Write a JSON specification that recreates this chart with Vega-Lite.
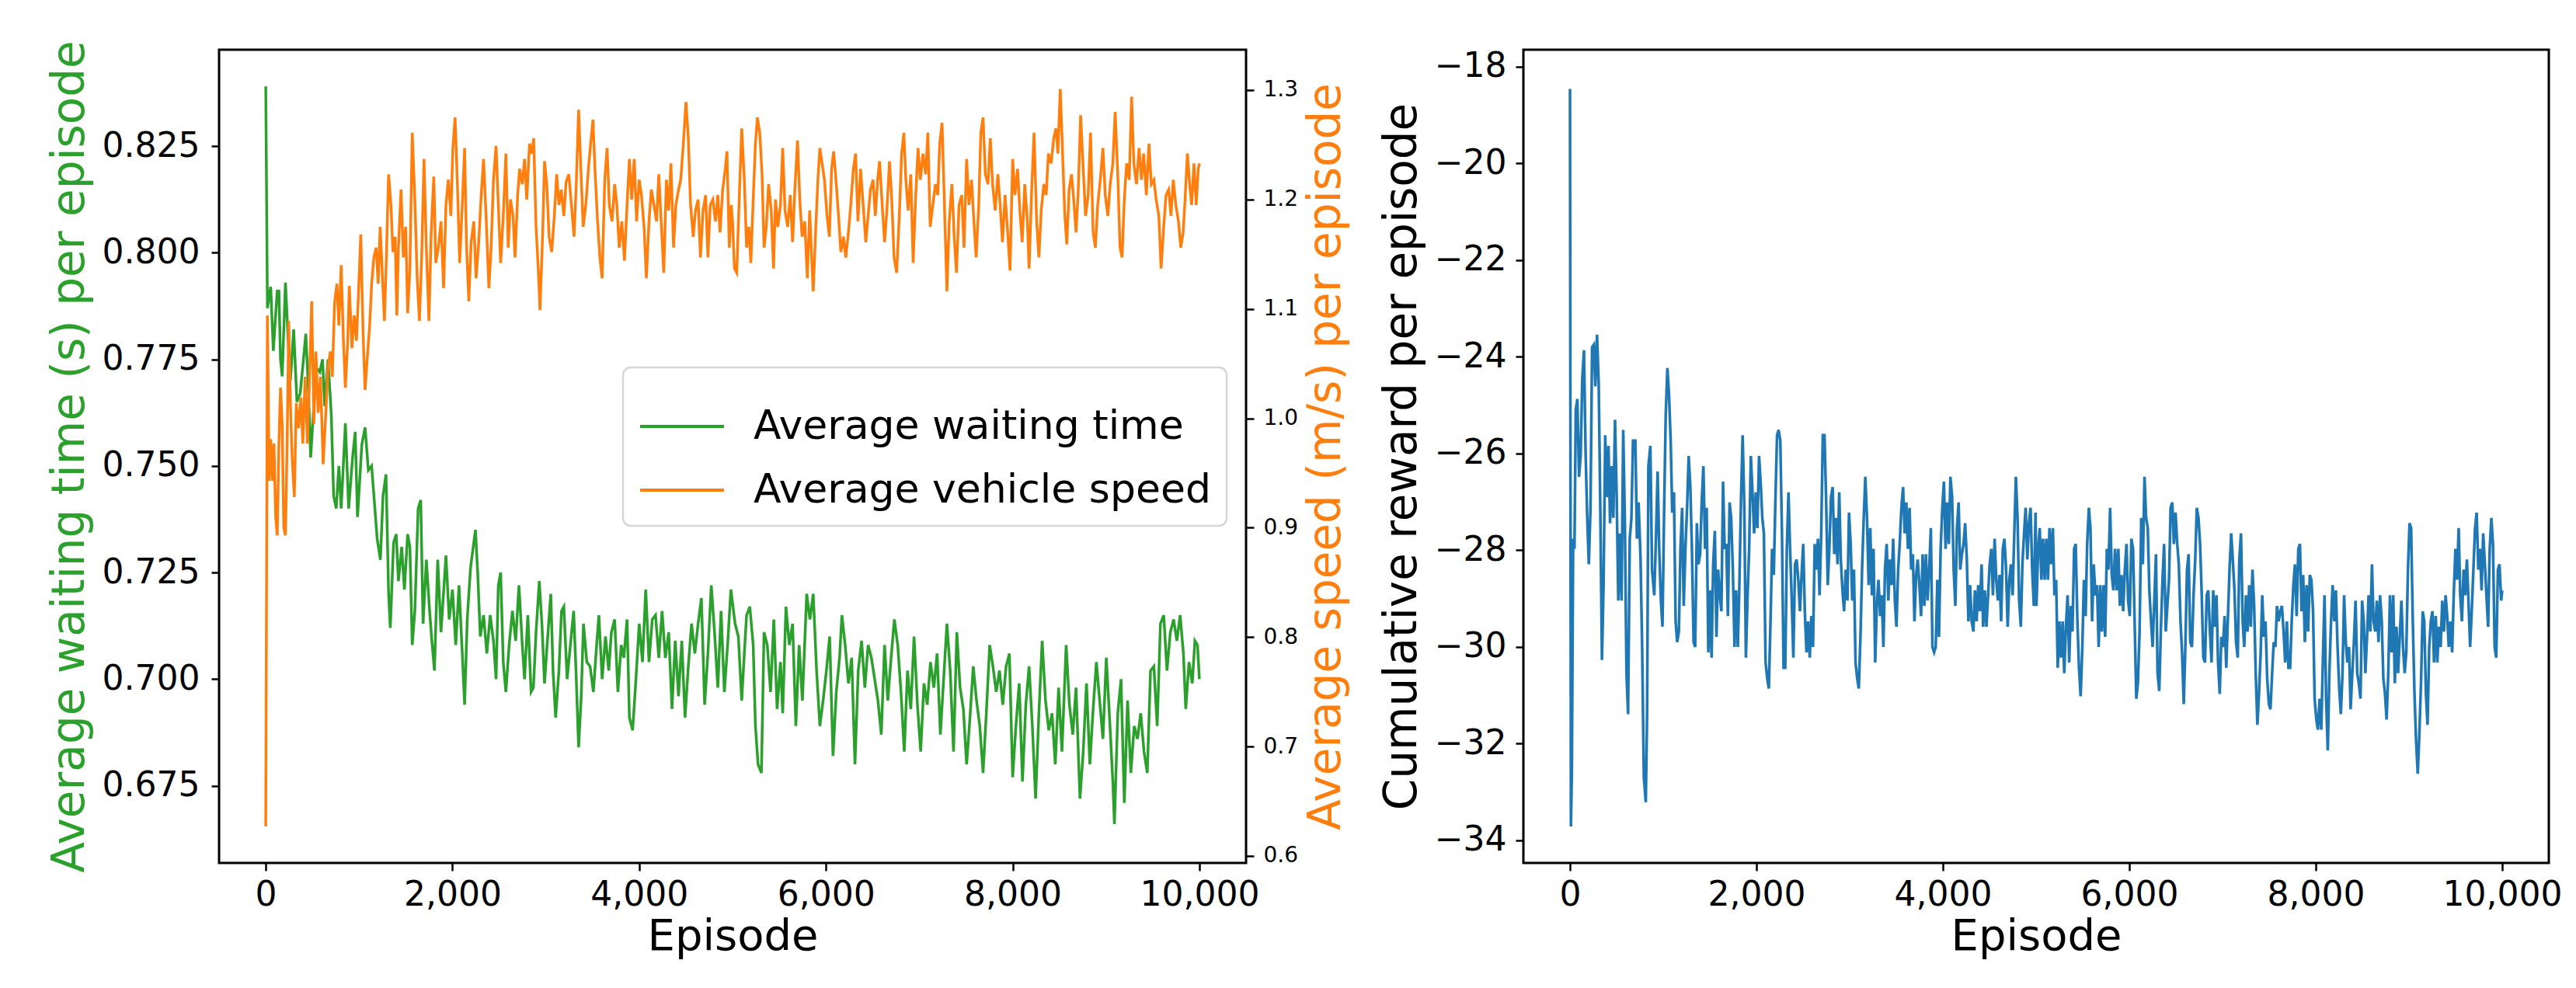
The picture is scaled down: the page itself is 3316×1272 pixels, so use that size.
{
  "$schema": "https://vega.github.io/schema/vega-lite/v6.json",
  "background": "white",
  "autosize": {"type": "pad"},
  "padding": {"left": 59, "top": 50, "right": 0, "bottom": 0},
  "spacing": 35,
  "datasets": {
    "waiting": [
      {"episode": 0, "value": 0.839}, {"episode": 18, "value": 0.787}, {"episode": 53, "value": 0.792}, {"episode": 81, "value": 0.777},
      {"episode": 123, "value": 0.791}, {"episode": 141, "value": 0.791}, {"episode": 158, "value": 0.775}, {"episode": 176, "value": 0.771},
      {"episode": 211, "value": 0.793}, {"episode": 246, "value": 0.777}, {"episode": 264, "value": 0.770}, {"episode": 299, "value": 0.782},
      {"episode": 334, "value": 0.765}, {"episode": 369, "value": 0.767}, {"episode": 404, "value": 0.775}, {"episode": 429, "value": 0.781},
      {"episode": 457, "value": 0.768}, {"episode": 481, "value": 0.752}, {"episode": 509, "value": 0.762}, {"episode": 544, "value": 0.773},
      {"episode": 579, "value": 0.772}, {"episode": 608, "value": 0.775}, {"episode": 632, "value": 0.764}, {"episode": 667, "value": 0.775},
      {"episode": 702, "value": 0.762}, {"episode": 727, "value": 0.743}, {"episode": 755, "value": 0.740}, {"episode": 783, "value": 0.750},
      {"episode": 808, "value": 0.740}, {"episode": 853, "value": 0.760}, {"episode": 888, "value": 0.740}, {"episode": 930, "value": 0.752},
      {"episode": 958, "value": 0.758}, {"episode": 983, "value": 0.738}, {"episode": 1029, "value": 0.755}, {"episode": 1064, "value": 0.759},
      {"episode": 1099, "value": 0.749}, {"episode": 1134, "value": 0.750}, {"episode": 1169, "value": 0.740}, {"episode": 1193, "value": 0.733},
      {"episode": 1228, "value": 0.728}, {"episode": 1256, "value": 0.743}, {"episode": 1288, "value": 0.748}, {"episode": 1316, "value": 0.720},
      {"episode": 1334, "value": 0.712}, {"episode": 1369, "value": 0.732}, {"episode": 1397, "value": 0.734}, {"episode": 1421, "value": 0.723},
      {"episode": 1456, "value": 0.731}, {"episode": 1485, "value": 0.721}, {"episode": 1520, "value": 0.734}, {"episode": 1544, "value": 0.731},
      {"episode": 1569, "value": 0.708}, {"episode": 1597, "value": 0.716}, {"episode": 1632, "value": 0.740}, {"episode": 1660, "value": 0.742},
      {"episode": 1685, "value": 0.713}, {"episode": 1720, "value": 0.728}, {"episode": 1755, "value": 0.716}, {"episode": 1779, "value": 0.709},
      {"episode": 1807, "value": 0.702}, {"episode": 1842, "value": 0.728}, {"episode": 1877, "value": 0.711}, {"episode": 1930, "value": 0.729},
      {"episode": 1965, "value": 0.714}, {"episode": 2000, "value": 0.721}, {"episode": 2035, "value": 0.708}, {"episode": 2070, "value": 0.722},
      {"episode": 2105, "value": 0.706}, {"episode": 2130, "value": 0.694}, {"episode": 2158, "value": 0.714}, {"episode": 2193, "value": 0.726},
      {"episode": 2246, "value": 0.735}, {"episode": 2270, "value": 0.725}, {"episode": 2298, "value": 0.710}, {"episode": 2333, "value": 0.715},
      {"episode": 2368, "value": 0.706}, {"episode": 2404, "value": 0.715}, {"episode": 2439, "value": 0.709}, {"episode": 2467, "value": 0.700},
      {"episode": 2491, "value": 0.722}, {"episode": 2516, "value": 0.725}, {"episode": 2544, "value": 0.704}, {"episode": 2572, "value": 0.697},
      {"episode": 2607, "value": 0.708}, {"episode": 2642, "value": 0.716}, {"episode": 2677, "value": 0.709}, {"episode": 2712, "value": 0.722},
      {"episode": 2748, "value": 0.708}, {"episode": 2772, "value": 0.700}, {"episode": 2807, "value": 0.715}, {"episode": 2842, "value": 0.697},
      {"episode": 2867, "value": 0.698}, {"episode": 2895, "value": 0.711}, {"episode": 2930, "value": 0.723}, {"episode": 2958, "value": 0.713},
      {"episode": 2986, "value": 0.699}, {"episode": 3017, "value": 0.709}, {"episode": 3053, "value": 0.720}, {"episode": 3077, "value": 0.702},
      {"episode": 3105, "value": 0.691}, {"episode": 3140, "value": 0.702}, {"episode": 3168, "value": 0.716}, {"episode": 3193, "value": 0.717},
      {"episode": 3228, "value": 0.700}, {"episode": 3263, "value": 0.708}, {"episode": 3298, "value": 0.716}, {"episode": 3323, "value": 0.702},
      {"episode": 3351, "value": 0.684}, {"episode": 3379, "value": 0.696}, {"episode": 3403, "value": 0.713}, {"episode": 3439, "value": 0.704},
      {"episode": 3474, "value": 0.703}, {"episode": 3509, "value": 0.697}, {"episode": 3544, "value": 0.708}, {"episode": 3568, "value": 0.715},
      {"episode": 3603, "value": 0.700}, {"episode": 3639, "value": 0.710}, {"episode": 3674, "value": 0.702}, {"episode": 3702, "value": 0.711},
      {"episode": 3737, "value": 0.714}, {"episode": 3772, "value": 0.697}, {"episode": 3807, "value": 0.708}, {"episode": 3835, "value": 0.705},
      {"episode": 3870, "value": 0.714}, {"episode": 3895, "value": 0.691}, {"episode": 3930, "value": 0.688}, {"episode": 3965, "value": 0.700},
      {"episode": 4000, "value": 0.713}, {"episode": 4035, "value": 0.704}, {"episode": 4070, "value": 0.721}, {"episode": 4105, "value": 0.704},
      {"episode": 4140, "value": 0.714}, {"episode": 4175, "value": 0.715}, {"episode": 4210, "value": 0.705}, {"episode": 4245, "value": 0.716},
      {"episode": 4280, "value": 0.705}, {"episode": 4316, "value": 0.711}, {"episode": 4351, "value": 0.693}, {"episode": 4386, "value": 0.709},
      {"episode": 4421, "value": 0.696}, {"episode": 4456, "value": 0.709}, {"episode": 4491, "value": 0.691}, {"episode": 4526, "value": 0.703},
      {"episode": 4561, "value": 0.713}, {"episode": 4596, "value": 0.706}, {"episode": 4631, "value": 0.713}, {"episode": 4666, "value": 0.719},
      {"episode": 4701, "value": 0.694}, {"episode": 4736, "value": 0.706}, {"episode": 4772, "value": 0.722}, {"episode": 4807, "value": 0.711},
      {"episode": 4842, "value": 0.698}, {"episode": 4877, "value": 0.716}, {"episode": 4912, "value": 0.697}, {"episode": 4947, "value": 0.708},
      {"episode": 4982, "value": 0.721}, {"episode": 5027, "value": 0.713}, {"episode": 5062, "value": 0.710}, {"episode": 5098, "value": 0.695},
      {"episode": 5126, "value": 0.706}, {"episode": 5150, "value": 0.715}, {"episode": 5185, "value": 0.717}, {"episode": 5221, "value": 0.708},
      {"episode": 5245, "value": 0.689}, {"episode": 5273, "value": 0.680}, {"episode": 5309, "value": 0.678}, {"episode": 5337, "value": 0.711},
      {"episode": 5372, "value": 0.708}, {"episode": 5407, "value": 0.697}, {"episode": 5442, "value": 0.714}, {"episode": 5477, "value": 0.693},
      {"episode": 5513, "value": 0.704}, {"episode": 5537, "value": 0.692}, {"episode": 5572, "value": 0.717}, {"episode": 5608, "value": 0.708},
      {"episode": 5643, "value": 0.713}, {"episode": 5678, "value": 0.689}, {"episode": 5713, "value": 0.708}, {"episode": 5748, "value": 0.695},
      {"episode": 5794, "value": 0.720}, {"episode": 5829, "value": 0.714}, {"episode": 5864, "value": 0.720}, {"episode": 5900, "value": 0.702},
      {"episode": 5935, "value": 0.689}, {"episode": 5970, "value": 0.695}, {"episode": 6005, "value": 0.702}, {"episode": 6040, "value": 0.710},
      {"episode": 6076, "value": 0.682}, {"episode": 6111, "value": 0.697}, {"episode": 6146, "value": 0.705}, {"episode": 6171, "value": 0.715},
      {"episode": 6206, "value": 0.708}, {"episode": 6241, "value": 0.699}, {"episode": 6276, "value": 0.705}, {"episode": 6311, "value": 0.680},
      {"episode": 6346, "value": 0.702}, {"episode": 6382, "value": 0.709}, {"episode": 6417, "value": 0.698}, {"episode": 6452, "value": 0.708},
      {"episode": 6487, "value": 0.705}, {"episode": 6522, "value": 0.700}, {"episode": 6557, "value": 0.695}, {"episode": 6593, "value": 0.687},
      {"episode": 6628, "value": 0.708}, {"episode": 6663, "value": 0.695}, {"episode": 6698, "value": 0.705}, {"episode": 6733, "value": 0.714},
      {"episode": 6769, "value": 0.708}, {"episode": 6804, "value": 0.697}, {"episode": 6839, "value": 0.683}, {"episode": 6874, "value": 0.702},
      {"episode": 6909, "value": 0.693}, {"episode": 6944, "value": 0.710}, {"episode": 6980, "value": 0.694}, {"episode": 7015, "value": 0.683},
      {"episode": 7050, "value": 0.699}, {"episode": 7085, "value": 0.694}, {"episode": 7120, "value": 0.704}, {"episode": 7156, "value": 0.698},
      {"episode": 7191, "value": 0.706}, {"episode": 7226, "value": 0.687}, {"episode": 7261, "value": 0.700}, {"episode": 7296, "value": 0.713},
      {"episode": 7331, "value": 0.702}, {"episode": 7367, "value": 0.683}, {"episode": 7402, "value": 0.711}, {"episode": 7437, "value": 0.698},
      {"episode": 7472, "value": 0.693}, {"episode": 7507, "value": 0.680}, {"episode": 7543, "value": 0.691}, {"episode": 7578, "value": 0.703},
      {"episode": 7613, "value": 0.695}, {"episode": 7648, "value": 0.689}, {"episode": 7683, "value": 0.678}, {"episode": 7718, "value": 0.692},
      {"episode": 7754, "value": 0.708}, {"episode": 7789, "value": 0.703}, {"episode": 7824, "value": 0.697}, {"episode": 7859, "value": 0.702},
      {"episode": 7894, "value": 0.694}, {"episode": 7930, "value": 0.703}, {"episode": 7965, "value": 0.706}, {"episode": 8000, "value": 0.677},
      {"episode": 8035, "value": 0.689}, {"episode": 8070, "value": 0.699}, {"episode": 8105, "value": 0.676}, {"episode": 8141, "value": 0.694},
      {"episode": 8176, "value": 0.703}, {"episode": 8211, "value": 0.689}, {"episode": 8246, "value": 0.672}, {"episode": 8281, "value": 0.692},
      {"episode": 8316, "value": 0.709}, {"episode": 8352, "value": 0.695}, {"episode": 8387, "value": 0.688}, {"episode": 8422, "value": 0.692},
      {"episode": 8457, "value": 0.680}, {"episode": 8492, "value": 0.698}, {"episode": 8528, "value": 0.683}, {"episode": 8573, "value": 0.708},
      {"episode": 8608, "value": 0.694}, {"episode": 8644, "value": 0.687}, {"episode": 8679, "value": 0.698}, {"episode": 8721, "value": 0.672},
      {"episode": 8756, "value": 0.683}, {"episode": 8791, "value": 0.699}, {"episode": 8827, "value": 0.680}, {"episode": 8862, "value": 0.693},
      {"episode": 8897, "value": 0.704}, {"episode": 8932, "value": 0.695}, {"episode": 8967, "value": 0.686}, {"episode": 9003, "value": 0.705},
      {"episode": 9038, "value": 0.691}, {"episode": 9073, "value": 0.676}, {"episode": 9090, "value": 0.666}, {"episode": 9126, "value": 0.692},
      {"episode": 9161, "value": 0.700}, {"episode": 9196, "value": 0.671}, {"episode": 9231, "value": 0.695}, {"episode": 9266, "value": 0.678},
      {"episode": 9302, "value": 0.689}, {"episode": 9337, "value": 0.686}, {"episode": 9372, "value": 0.692}, {"episode": 9407, "value": 0.683},
      {"episode": 9442, "value": 0.678}, {"episode": 9477, "value": 0.702}, {"episode": 9513, "value": 0.703}, {"episode": 9548, "value": 0.689},
      {"episode": 9583, "value": 0.713}, {"episode": 9618, "value": 0.715}, {"episode": 9653, "value": 0.702}, {"episode": 9689, "value": 0.711},
      {"episode": 9724, "value": 0.714}, {"episode": 9759, "value": 0.709}, {"episode": 9794, "value": 0.715}, {"episode": 9829, "value": 0.706},
      {"episode": 9854, "value": 0.693}, {"episode": 9889, "value": 0.704}, {"episode": 9924, "value": 0.699}, {"episode": 9952, "value": 0.709},
      {"episode": 9980, "value": 0.708}, {"episode": 10000, "value": 0.700}
    ],
    "speed": [
      {"episode": 0, "value": 0.627}, {"episode": 18, "value": 1.094}, {"episode": 36, "value": 0.943}, {"episode": 53, "value": 0.981},
      {"episode": 71, "value": 0.943}, {"episode": 88, "value": 0.977}, {"episode": 106, "value": 0.910}, {"episode": 123, "value": 0.893},
      {"episode": 141, "value": 0.977}, {"episode": 158, "value": 1.028}, {"episode": 176, "value": 0.995}, {"episode": 193, "value": 0.900},
      {"episode": 211, "value": 0.893}, {"episode": 229, "value": 0.977}, {"episode": 246, "value": 1.089}, {"episode": 264, "value": 1.014},
      {"episode": 281, "value": 0.967}, {"episode": 306, "value": 0.928}, {"episode": 327, "value": 1.014}, {"episode": 352, "value": 0.991},
      {"episode": 376, "value": 1.019}, {"episode": 397, "value": 0.977}, {"episode": 422, "value": 1.038}, {"episode": 446, "value": 0.977},
      {"episode": 474, "value": 1.052}, {"episode": 492, "value": 1.107}, {"episode": 516, "value": 0.995}, {"episode": 537, "value": 1.061},
      {"episode": 562, "value": 1.005}, {"episode": 586, "value": 1.038}, {"episode": 615, "value": 0.958}, {"episode": 643, "value": 1.005},
      {"episode": 667, "value": 1.047}, {"episode": 692, "value": 1.061}, {"episode": 713, "value": 1.038}, {"episode": 737, "value": 1.105},
      {"episode": 762, "value": 1.123}, {"episode": 783, "value": 1.085}, {"episode": 808, "value": 1.140}, {"episode": 832, "value": 1.071},
      {"episode": 853, "value": 1.028}, {"episode": 878, "value": 1.071}, {"episode": 895, "value": 1.121}, {"episode": 923, "value": 1.064},
      {"episode": 948, "value": 1.094}, {"episode": 972, "value": 1.071}, {"episode": 993, "value": 1.114}, {"episode": 1018, "value": 1.168},
      {"episode": 1043, "value": 1.075}, {"episode": 1064, "value": 1.026}, {"episode": 1088, "value": 1.056}, {"episode": 1113, "value": 1.085},
      {"episode": 1134, "value": 1.123}, {"episode": 1158, "value": 1.147}, {"episode": 1183, "value": 1.156}, {"episode": 1204, "value": 1.123},
      {"episode": 1225, "value": 1.175}, {"episode": 1246, "value": 1.137}, {"episode": 1271, "value": 1.089}, {"episode": 1292, "value": 1.147},
      {"episode": 1316, "value": 1.223}, {"episode": 1341, "value": 1.195}, {"episode": 1362, "value": 1.152}, {"episode": 1386, "value": 1.166},
      {"episode": 1404, "value": 1.094}, {"episode": 1421, "value": 1.156}, {"episode": 1449, "value": 1.209}, {"episode": 1474, "value": 1.147},
      {"episode": 1499, "value": 1.175}, {"episode": 1520, "value": 1.096}, {"episode": 1544, "value": 1.137}, {"episode": 1569, "value": 1.261},
      {"episode": 1597, "value": 1.200}, {"episode": 1622, "value": 1.128}, {"episode": 1646, "value": 1.089}, {"episode": 1670, "value": 1.147},
      {"episode": 1695, "value": 1.237}, {"episode": 1720, "value": 1.156}, {"episode": 1748, "value": 1.089}, {"episode": 1772, "value": 1.170},
      {"episode": 1800, "value": 1.221}, {"episode": 1821, "value": 1.142}, {"episode": 1849, "value": 1.156}, {"episode": 1877, "value": 1.180},
      {"episode": 1905, "value": 1.119}, {"episode": 1930, "value": 1.195}, {"episode": 1955, "value": 1.218}, {"episode": 1983, "value": 1.185},
      {"episode": 2004, "value": 1.247}, {"episode": 2028, "value": 1.275}, {"episode": 2053, "value": 1.214}, {"episode": 2077, "value": 1.142},
      {"episode": 2105, "value": 1.195}, {"episode": 2130, "value": 1.247}, {"episode": 2151, "value": 1.156}, {"episode": 2175, "value": 1.107},
      {"episode": 2200, "value": 1.161}, {"episode": 2228, "value": 1.180}, {"episode": 2253, "value": 1.128}, {"episode": 2281, "value": 1.161},
      {"episode": 2305, "value": 1.200}, {"episode": 2333, "value": 1.237}, {"episode": 2362, "value": 1.180}, {"episode": 2390, "value": 1.119},
      {"episode": 2414, "value": 1.156}, {"episode": 2439, "value": 1.218}, {"episode": 2467, "value": 1.249}, {"episode": 2491, "value": 1.195},
      {"episode": 2516, "value": 1.142}, {"episode": 2544, "value": 1.185}, {"episode": 2572, "value": 1.242}, {"episode": 2597, "value": 1.156},
      {"episode": 2621, "value": 1.200}, {"episode": 2649, "value": 1.185}, {"episode": 2670, "value": 1.147}, {"episode": 2698, "value": 1.204},
      {"episode": 2719, "value": 1.228}, {"episode": 2748, "value": 1.214}, {"episode": 2772, "value": 1.237}, {"episode": 2796, "value": 1.200},
      {"episode": 2825, "value": 1.251}, {"episode": 2849, "value": 1.242}, {"episode": 2870, "value": 1.256}, {"episode": 2895, "value": 1.175},
      {"episode": 2919, "value": 1.137}, {"episode": 2937, "value": 1.099}, {"episode": 2965, "value": 1.166}, {"episode": 2986, "value": 1.235},
      {"episode": 3010, "value": 1.214}, {"episode": 3035, "value": 1.166}, {"episode": 3063, "value": 1.152}, {"episode": 3091, "value": 1.185},
      {"episode": 3116, "value": 1.223}, {"episode": 3140, "value": 1.195}, {"episode": 3165, "value": 1.209}, {"episode": 3193, "value": 1.185},
      {"episode": 3217, "value": 1.216}, {"episode": 3246, "value": 1.223}, {"episode": 3274, "value": 1.195}, {"episode": 3302, "value": 1.166},
      {"episode": 3326, "value": 1.214}, {"episode": 3351, "value": 1.282}, {"episode": 3375, "value": 1.228}, {"episode": 3400, "value": 1.175},
      {"episode": 3428, "value": 1.195}, {"episode": 3456, "value": 1.228}, {"episode": 3480, "value": 1.251}, {"episode": 3505, "value": 1.273},
      {"episode": 3526, "value": 1.228}, {"episode": 3554, "value": 1.180}, {"episode": 3579, "value": 1.147}, {"episode": 3603, "value": 1.128},
      {"episode": 3631, "value": 1.218}, {"episode": 3656, "value": 1.247}, {"episode": 3680, "value": 1.195}, {"episode": 3709, "value": 1.180},
      {"episode": 3737, "value": 1.214}, {"episode": 3761, "value": 1.195}, {"episode": 3786, "value": 1.156}, {"episode": 3814, "value": 1.180},
      {"episode": 3842, "value": 1.144}, {"episode": 3870, "value": 1.195}, {"episode": 3895, "value": 1.237}, {"episode": 3919, "value": 1.200},
      {"episode": 3947, "value": 1.237}, {"episode": 3972, "value": 1.180}, {"episode": 4000, "value": 1.218}, {"episode": 4024, "value": 1.204},
      {"episode": 4052, "value": 1.175}, {"episode": 4077, "value": 1.128}, {"episode": 4105, "value": 1.180}, {"episode": 4130, "value": 1.209},
      {"episode": 4158, "value": 1.195}, {"episode": 4186, "value": 1.180}, {"episode": 4210, "value": 1.223}, {"episode": 4235, "value": 1.180},
      {"episode": 4263, "value": 1.133}, {"episode": 4291, "value": 1.218}, {"episode": 4316, "value": 1.190}, {"episode": 4340, "value": 1.233},
      {"episode": 4368, "value": 1.156}, {"episode": 4393, "value": 1.195}, {"episode": 4421, "value": 1.209}, {"episode": 4445, "value": 1.218},
      {"episode": 4473, "value": 1.251}, {"episode": 4501, "value": 1.289}, {"episode": 4526, "value": 1.256}, {"episode": 4550, "value": 1.195},
      {"episode": 4579, "value": 1.166}, {"episode": 4603, "value": 1.190}, {"episode": 4631, "value": 1.200}, {"episode": 4656, "value": 1.147},
      {"episode": 4684, "value": 1.190}, {"episode": 4712, "value": 1.204}, {"episode": 4736, "value": 1.147}, {"episode": 4761, "value": 1.195},
      {"episode": 4789, "value": 1.200}, {"episode": 4817, "value": 1.180}, {"episode": 4842, "value": 1.204}, {"episode": 4866, "value": 1.170},
      {"episode": 4894, "value": 1.209}, {"episode": 4922, "value": 1.228}, {"episode": 4940, "value": 1.244}, {"episode": 4965, "value": 1.156},
      {"episode": 4986, "value": 1.195}, {"episode": 5000, "value": 1.180}, {"episode": 5020, "value": 1.137}, {"episode": 5045, "value": 1.133},
      {"episode": 5069, "value": 1.195}, {"episode": 5098, "value": 1.265}, {"episode": 5126, "value": 1.218}, {"episode": 5150, "value": 1.156},
      {"episode": 5175, "value": 1.175}, {"episode": 5196, "value": 1.142}, {"episode": 5221, "value": 1.200}, {"episode": 5245, "value": 1.251},
      {"episode": 5266, "value": 1.275}, {"episode": 5291, "value": 1.261}, {"episode": 5316, "value": 1.223}, {"episode": 5337, "value": 1.156},
      {"episode": 5361, "value": 1.175}, {"episode": 5386, "value": 1.214}, {"episode": 5414, "value": 1.190}, {"episode": 5439, "value": 1.137},
      {"episode": 5460, "value": 1.200}, {"episode": 5485, "value": 1.175}, {"episode": 5513, "value": 1.195}, {"episode": 5537, "value": 1.247},
      {"episode": 5562, "value": 1.190}, {"episode": 5590, "value": 1.175}, {"episode": 5618, "value": 1.204}, {"episode": 5643, "value": 1.161},
      {"episode": 5667, "value": 1.209}, {"episode": 5696, "value": 1.254}, {"episode": 5720, "value": 1.200}, {"episode": 5745, "value": 1.166},
      {"episode": 5773, "value": 1.180}, {"episode": 5801, "value": 1.128}, {"episode": 5826, "value": 1.190}, {"episode": 5847, "value": 1.147},
      {"episode": 5864, "value": 1.116}, {"episode": 5889, "value": 1.170}, {"episode": 5914, "value": 1.218}, {"episode": 5935, "value": 1.247},
      {"episode": 5959, "value": 1.233}, {"episode": 5984, "value": 1.218}, {"episode": 6012, "value": 1.185}, {"episode": 6037, "value": 1.166},
      {"episode": 6061, "value": 1.228}, {"episode": 6083, "value": 1.244}, {"episode": 6111, "value": 1.214}, {"episode": 6135, "value": 1.185},
      {"episode": 6160, "value": 1.152}, {"episode": 6188, "value": 1.166}, {"episode": 6213, "value": 1.147}, {"episode": 6241, "value": 1.170},
      {"episode": 6266, "value": 1.195}, {"episode": 6294, "value": 1.228}, {"episode": 6318, "value": 1.242}, {"episode": 6343, "value": 1.180},
      {"episode": 6371, "value": 1.228}, {"episode": 6399, "value": 1.195}, {"episode": 6427, "value": 1.161}, {"episode": 6452, "value": 1.185},
      {"episode": 6477, "value": 1.209}, {"episode": 6505, "value": 1.218}, {"episode": 6529, "value": 1.185}, {"episode": 6554, "value": 1.218},
      {"episode": 6575, "value": 1.235}, {"episode": 6603, "value": 1.195}, {"episode": 6628, "value": 1.161}, {"episode": 6653, "value": 1.190},
      {"episode": 6681, "value": 1.235}, {"episode": 6705, "value": 1.200}, {"episode": 6730, "value": 1.147}, {"episode": 6758, "value": 1.133},
      {"episode": 6786, "value": 1.185}, {"episode": 6811, "value": 1.242}, {"episode": 6835, "value": 1.261}, {"episode": 6856, "value": 1.218},
      {"episode": 6881, "value": 1.190}, {"episode": 6909, "value": 1.223}, {"episode": 6934, "value": 1.142}, {"episode": 6962, "value": 1.204},
      {"episode": 6987, "value": 1.247}, {"episode": 7011, "value": 1.218}, {"episode": 7040, "value": 1.242}, {"episode": 7068, "value": 1.223},
      {"episode": 7092, "value": 1.261}, {"episode": 7117, "value": 1.175}, {"episode": 7145, "value": 1.195}, {"episode": 7173, "value": 1.214},
      {"episode": 7198, "value": 1.204}, {"episode": 7219, "value": 1.251}, {"episode": 7244, "value": 1.270}, {"episode": 7268, "value": 1.200},
      {"episode": 7296, "value": 1.116}, {"episode": 7321, "value": 1.180}, {"episode": 7349, "value": 1.214}, {"episode": 7374, "value": 1.166},
      {"episode": 7398, "value": 1.133}, {"episode": 7426, "value": 1.195}, {"episode": 7455, "value": 1.204}, {"episode": 7479, "value": 1.156},
      {"episode": 7507, "value": 1.237}, {"episode": 7532, "value": 1.195}, {"episode": 7560, "value": 1.218}, {"episode": 7585, "value": 1.180},
      {"episode": 7609, "value": 1.147}, {"episode": 7637, "value": 1.195}, {"episode": 7659, "value": 1.261}, {"episode": 7683, "value": 1.275},
      {"episode": 7708, "value": 1.223}, {"episode": 7736, "value": 1.214}, {"episode": 7761, "value": 1.256}, {"episode": 7785, "value": 1.214},
      {"episode": 7813, "value": 1.190}, {"episode": 7842, "value": 1.223}, {"episode": 7866, "value": 1.195}, {"episode": 7891, "value": 1.161},
      {"episode": 7919, "value": 1.204}, {"episode": 7947, "value": 1.170}, {"episode": 7972, "value": 1.135}, {"episode": 8000, "value": 1.237},
      {"episode": 8025, "value": 1.204}, {"episode": 8053, "value": 1.228}, {"episode": 8077, "value": 1.190}, {"episode": 8102, "value": 1.161},
      {"episode": 8130, "value": 1.214}, {"episode": 8158, "value": 1.180}, {"episode": 8176, "value": 1.137}, {"episode": 8204, "value": 1.209},
      {"episode": 8229, "value": 1.261}, {"episode": 8257, "value": 1.180}, {"episode": 8281, "value": 1.147}, {"episode": 8306, "value": 1.190},
      {"episode": 8334, "value": 1.214}, {"episode": 8359, "value": 1.204}, {"episode": 8383, "value": 1.242}, {"episode": 8412, "value": 1.233},
      {"episode": 8440, "value": 1.256}, {"episode": 8464, "value": 1.265}, {"episode": 8485, "value": 1.242}, {"episode": 8510, "value": 1.301},
      {"episode": 8535, "value": 1.242}, {"episode": 8559, "value": 1.185}, {"episode": 8580, "value": 1.159}, {"episode": 8605, "value": 1.209},
      {"episode": 8630, "value": 1.223}, {"episode": 8654, "value": 1.200}, {"episode": 8679, "value": 1.170}, {"episode": 8703, "value": 1.209},
      {"episode": 8728, "value": 1.277}, {"episode": 8756, "value": 1.228}, {"episode": 8781, "value": 1.185}, {"episode": 8809, "value": 1.204},
      {"episode": 8834, "value": 1.261}, {"episode": 8862, "value": 1.170}, {"episode": 8886, "value": 1.156}, {"episode": 8911, "value": 1.195},
      {"episode": 8939, "value": 1.218}, {"episode": 8967, "value": 1.247}, {"episode": 8992, "value": 1.204}, {"episode": 9020, "value": 1.185},
      {"episode": 9045, "value": 1.214}, {"episode": 9073, "value": 1.233}, {"episode": 9098, "value": 1.280}, {"episode": 9126, "value": 1.223},
      {"episode": 9150, "value": 1.156}, {"episode": 9172, "value": 1.147}, {"episode": 9196, "value": 1.200}, {"episode": 9221, "value": 1.233},
      {"episode": 9249, "value": 1.218}, {"episode": 9274, "value": 1.294}, {"episode": 9298, "value": 1.233}, {"episode": 9326, "value": 1.214},
      {"episode": 9354, "value": 1.247}, {"episode": 9379, "value": 1.218}, {"episode": 9404, "value": 1.242}, {"episode": 9432, "value": 1.204},
      {"episode": 9460, "value": 1.251}, {"episode": 9485, "value": 1.214}, {"episode": 9513, "value": 1.218}, {"episode": 9537, "value": 1.200},
      {"episode": 9566, "value": 1.185}, {"episode": 9590, "value": 1.137}, {"episode": 9618, "value": 1.175}, {"episode": 9643, "value": 1.204},
      {"episode": 9671, "value": 1.209}, {"episode": 9696, "value": 1.185}, {"episode": 9720, "value": 1.218}, {"episode": 9748, "value": 1.195},
      {"episode": 9776, "value": 1.180}, {"episode": 9801, "value": 1.156}, {"episode": 9826, "value": 1.170}, {"episode": 9847, "value": 1.200},
      {"episode": 9872, "value": 1.242}, {"episode": 9896, "value": 1.214}, {"episode": 9917, "value": 1.195}, {"episode": 9942, "value": 1.233},
      {"episode": 9966, "value": 1.195}, {"episode": 9988, "value": 1.228}, {"episode": 10000, "value": 1.233}
    ],
    "reward": [
      {"episode": 0, "value": -18.46}, {"episode": 10, "value": -33.71}, {"episode": 20, "value": -32.57}, {"episode": 34, "value": -27.76},
      {"episode": 48, "value": -27.97}, {"episode": 62, "value": -25.09}, {"episode": 79, "value": -24.87}, {"episode": 97, "value": -26.48},
      {"episode": 114, "value": -26.05}, {"episode": 132, "value": -24.45}, {"episode": 150, "value": -23.86}, {"episode": 167, "value": -25.94},
      {"episode": 185, "value": -27.33}, {"episode": 202, "value": -28.29}, {"episode": 220, "value": -27.12}, {"episode": 237, "value": -23.80},
      {"episode": 255, "value": -23.75}, {"episode": 272, "value": -24.61}, {"episode": 290, "value": -23.54}, {"episode": 308, "value": -24.55},
      {"episode": 325, "value": -27.12}, {"episode": 343, "value": -30.27}, {"episode": 360, "value": -28.72}, {"episode": 378, "value": -25.62},
      {"episode": 395, "value": -26.90}, {"episode": 413, "value": -25.84}, {"episode": 430, "value": -27.44}, {"episode": 448, "value": -26.26},
      {"episode": 465, "value": -27.33}, {"episode": 483, "value": -25.30}, {"episode": 501, "value": -26.90}, {"episode": 518, "value": -29.04},
      {"episode": 536, "value": -27.65}, {"episode": 553, "value": -29.04}, {"episode": 571, "value": -25.51}, {"episode": 588, "value": -27.33},
      {"episode": 606, "value": -30.54}, {"episode": 623, "value": -31.39}, {"episode": 641, "value": -27.76}, {"episode": 659, "value": -27.33},
      {"episode": 676, "value": -25.73}, {"episode": 701, "value": -25.73}, {"episode": 718, "value": -27.76}, {"episode": 736, "value": -27.01},
      {"episode": 757, "value": -28.19}, {"episode": 774, "value": -30.00}, {"episode": 792, "value": -32.68}, {"episode": 813, "value": -33.21},
      {"episode": 827, "value": -31.39}, {"episode": 841, "value": -26.26}, {"episode": 862, "value": -25.84}, {"episode": 880, "value": -28.40},
      {"episode": 904, "value": -28.93}, {"episode": 922, "value": -27.76}, {"episode": 940, "value": -26.37}, {"episode": 957, "value": -27.97},
      {"episode": 975, "value": -29.04}, {"episode": 992, "value": -29.58}, {"episode": 1010, "value": -27.12}, {"episode": 1027, "value": -25.19},
      {"episode": 1045, "value": -24.23}, {"episode": 1062, "value": -24.77}, {"episode": 1080, "value": -25.73}, {"episode": 1097, "value": -27.22},
      {"episode": 1115, "value": -26.80}, {"episode": 1133, "value": -29.47}, {"episode": 1150, "value": -29.90}, {"episode": 1168, "value": -29.68},
      {"episode": 1185, "value": -27.97}, {"episode": 1203, "value": -27.12}, {"episode": 1220, "value": -29.15}, {"episode": 1238, "value": -27.97},
      {"episode": 1256, "value": -27.12}, {"episode": 1273, "value": -26.05}, {"episode": 1291, "value": -26.69}, {"episode": 1308, "value": -27.97},
      {"episode": 1326, "value": -29.90}, {"episode": 1343, "value": -30.00}, {"episode": 1361, "value": -27.44}, {"episode": 1378, "value": -28.29},
      {"episode": 1396, "value": -28.08}, {"episode": 1413, "value": -27.01}, {"episode": 1431, "value": -26.26}, {"episode": 1449, "value": -27.97},
      {"episode": 1466, "value": -27.12}, {"episode": 1484, "value": -30.11}, {"episode": 1501, "value": -28.83}, {"episode": 1519, "value": -30.22},
      {"episode": 1536, "value": -28.29}, {"episode": 1554, "value": -27.60}, {"episode": 1571, "value": -29.79}, {"episode": 1589, "value": -28.40},
      {"episode": 1607, "value": -28.93}, {"episode": 1624, "value": -29.26}, {"episode": 1642, "value": -26.58}, {"episode": 1659, "value": -27.97},
      {"episode": 1677, "value": -27.87}, {"episode": 1694, "value": -29.36}, {"episode": 1712, "value": -27.01}, {"episode": 1729, "value": -27.33},
      {"episode": 1747, "value": -28.40}, {"episode": 1765, "value": -30.00}, {"episode": 1782, "value": -28.83}, {"episode": 1800, "value": -30.00},
      {"episode": 1817, "value": -28.72}, {"episode": 1835, "value": -26.90}, {"episode": 1852, "value": -25.62}, {"episode": 1870, "value": -27.12},
      {"episode": 1887, "value": -30.22}, {"episode": 1905, "value": -28.93}, {"episode": 1922, "value": -27.97}, {"episode": 1940, "value": -26.05},
      {"episode": 1958, "value": -26.80}, {"episode": 1975, "value": -27.65}, {"episode": 1993, "value": -26.80}, {"episode": 2010, "value": -27.54},
      {"episode": 2028, "value": -26.05}, {"episode": 2045, "value": -26.58}, {"episode": 2063, "value": -27.33}, {"episode": 2080, "value": -27.65},
      {"episode": 2098, "value": -30.32}, {"episode": 2116, "value": -30.65}, {"episode": 2133, "value": -30.86}, {"episode": 2151, "value": -29.47},
      {"episode": 2168, "value": -27.97}, {"episode": 2186, "value": -28.51}, {"episode": 2203, "value": -27.01}, {"episode": 2221, "value": -25.62},
      {"episode": 2238, "value": -25.51}, {"episode": 2256, "value": -25.73}, {"episode": 2274, "value": -27.65}, {"episode": 2291, "value": -30.43},
      {"episode": 2309, "value": -30.43}, {"episode": 2326, "value": -27.97}, {"episode": 2344, "value": -26.80}, {"episode": 2361, "value": -27.97},
      {"episode": 2379, "value": -29.04}, {"episode": 2396, "value": -30.22}, {"episode": 2414, "value": -28.29}, {"episode": 2431, "value": -28.19},
      {"episode": 2449, "value": -28.61}, {"episode": 2467, "value": -29.26}, {"episode": 2484, "value": -28.51}, {"episode": 2502, "value": -27.87},
      {"episode": 2519, "value": -29.26}, {"episode": 2537, "value": -30.11}, {"episode": 2554, "value": -29.47}, {"episode": 2572, "value": -30.22},
      {"episode": 2589, "value": -29.36}, {"episode": 2607, "value": -30.00}, {"episode": 2625, "value": -27.87}, {"episode": 2642, "value": -28.40},
      {"episode": 2660, "value": -27.76}, {"episode": 2677, "value": -28.93}, {"episode": 2695, "value": -27.65}, {"episode": 2712, "value": -25.62},
      {"episode": 2730, "value": -25.62}, {"episode": 2747, "value": -26.90}, {"episode": 2765, "value": -28.72}, {"episode": 2782, "value": -27.97},
      {"episode": 2800, "value": -26.90}, {"episode": 2818, "value": -26.69}, {"episode": 2835, "value": -28.08}, {"episode": 2853, "value": -27.33},
      {"episode": 2870, "value": -28.29}, {"episode": 2888, "value": -26.80}, {"episode": 2905, "value": -28.19}, {"episode": 2923, "value": -28.83},
      {"episode": 2940, "value": -29.26}, {"episode": 2958, "value": -28.40}, {"episode": 2976, "value": -29.04}, {"episode": 2993, "value": -27.22},
      {"episode": 3011, "value": -27.87}, {"episode": 3028, "value": -29.04}, {"episode": 3046, "value": -28.40}, {"episode": 3063, "value": -30.32},
      {"episode": 3081, "value": -30.65}, {"episode": 3098, "value": -30.86}, {"episode": 3116, "value": -29.79}, {"episode": 3133, "value": -28.40},
      {"episode": 3151, "value": -27.33}, {"episode": 3168, "value": -26.48}, {"episode": 3186, "value": -27.33}, {"episode": 3204, "value": -28.72},
      {"episode": 3221, "value": -27.54}, {"episode": 3239, "value": -28.93}, {"episode": 3256, "value": -27.97}, {"episode": 3274, "value": -30.32},
      {"episode": 3291, "value": -29.15}, {"episode": 3309, "value": -28.61}, {"episode": 3327, "value": -29.36}, {"episode": 3344, "value": -28.93},
      {"episode": 3362, "value": -30.00}, {"episode": 3379, "value": -28.40}, {"episode": 3397, "value": -27.87}, {"episode": 3415, "value": -29.04},
      {"episode": 3432, "value": -28.19}, {"episode": 3450, "value": -28.72}, {"episode": 3467, "value": -27.76}, {"episode": 3485, "value": -29.04},
      {"episode": 3502, "value": -29.58}, {"episode": 3520, "value": -28.40}, {"episode": 3537, "value": -27.87}, {"episode": 3555, "value": -27.12},
      {"episode": 3573, "value": -26.69}, {"episode": 3590, "value": -27.65}, {"episode": 3608, "value": -27.01}, {"episode": 3625, "value": -27.97},
      {"episode": 3643, "value": -27.12}, {"episode": 3660, "value": -28.40}, {"episode": 3678, "value": -28.08}, {"episode": 3695, "value": -29.47},
      {"episode": 3713, "value": -28.51}, {"episode": 3730, "value": -28.19}, {"episode": 3748, "value": -28.72}, {"episode": 3766, "value": -29.36},
      {"episode": 3783, "value": -28.08}, {"episode": 3801, "value": -29.15}, {"episode": 3818, "value": -28.08}, {"episode": 3836, "value": -29.04},
      {"episode": 3853, "value": -28.40}, {"episode": 3871, "value": -27.54}, {"episode": 3888, "value": -30.00}, {"episode": 3906, "value": -30.11},
      {"episode": 3923, "value": -30.00}, {"episode": 3941, "value": -28.61}, {"episode": 3958, "value": -29.79}, {"episode": 3976, "value": -27.97},
      {"episode": 3994, "value": -27.12}, {"episode": 4011, "value": -26.58}, {"episode": 4029, "value": -27.97}, {"episode": 4046, "value": -27.01},
      {"episode": 4064, "value": -27.87}, {"episode": 4081, "value": -26.48}, {"episode": 4099, "value": -26.90}, {"episode": 4116, "value": -28.40},
      {"episode": 4134, "value": -29.15}, {"episode": 4151, "value": -27.54}, {"episode": 4169, "value": -27.01}, {"episode": 4186, "value": -28.40},
      {"episode": 4204, "value": -28.08}, {"episode": 4222, "value": -27.87}, {"episode": 4239, "value": -27.44}, {"episode": 4257, "value": -28.19},
      {"episode": 4274, "value": -29.47}, {"episode": 4292, "value": -28.72}, {"episode": 4309, "value": -29.47}, {"episode": 4327, "value": -29.68},
      {"episode": 4344, "value": -28.83}, {"episode": 4362, "value": -29.47}, {"episode": 4379, "value": -28.72}, {"episode": 4397, "value": -29.26},
      {"episode": 4415, "value": -28.29}, {"episode": 4432, "value": -29.58}, {"episode": 4450, "value": -28.83}, {"episode": 4467, "value": -29.58},
      {"episode": 4485, "value": -28.93}, {"episode": 4502, "value": -28.29}, {"episode": 4520, "value": -27.97}, {"episode": 4537, "value": -28.93},
      {"episode": 4555, "value": -27.76}, {"episode": 4573, "value": -28.61}, {"episode": 4590, "value": -29.04}, {"episode": 4608, "value": -28.51},
      {"episode": 4625, "value": -29.47}, {"episode": 4643, "value": -27.97}, {"episode": 4660, "value": -27.76}, {"episode": 4678, "value": -28.40},
      {"episode": 4695, "value": -29.58}, {"episode": 4713, "value": -28.61}, {"episode": 4730, "value": -28.29}, {"episode": 4748, "value": -28.93},
      {"episode": 4766, "value": -27.65}, {"episode": 4783, "value": -26.48}, {"episode": 4801, "value": -27.33}, {"episode": 4818, "value": -29.04},
      {"episode": 4836, "value": -29.58}, {"episode": 4853, "value": -28.29}, {"episode": 4871, "value": -27.65}, {"episode": 4888, "value": -27.12},
      {"episode": 4906, "value": -28.19}, {"episode": 4923, "value": -27.44}, {"episode": 4941, "value": -27.12}, {"episode": 4958, "value": -28.40},
      {"episode": 4976, "value": -29.15}, {"episode": 4994, "value": -27.22}, {"episode": 5004, "value": -29.15}, {"episode": 5022, "value": -27.97},
      {"episode": 5039, "value": -27.54}, {"episode": 5057, "value": -28.61}, {"episode": 5074, "value": -27.76}, {"episode": 5092, "value": -28.61},
      {"episode": 5109, "value": -27.76}, {"episode": 5127, "value": -28.61}, {"episode": 5144, "value": -27.54}, {"episode": 5162, "value": -28.29},
      {"episode": 5180, "value": -27.54}, {"episode": 5197, "value": -28.93}, {"episode": 5215, "value": -28.61}, {"episode": 5232, "value": -30.43},
      {"episode": 5250, "value": -29.47}, {"episode": 5267, "value": -30.22}, {"episode": 5285, "value": -29.47}, {"episode": 5302, "value": -30.54},
      {"episode": 5320, "value": -29.58}, {"episode": 5338, "value": -28.93}, {"episode": 5355, "value": -30.32}, {"episode": 5373, "value": -29.15},
      {"episode": 5390, "value": -29.68}, {"episode": 5408, "value": -27.97}, {"episode": 5425, "value": -27.87}, {"episode": 5443, "value": -29.47},
      {"episode": 5460, "value": -30.43}, {"episode": 5478, "value": -31.02}, {"episode": 5496, "value": -30.00}, {"episode": 5513, "value": -28.61},
      {"episode": 5531, "value": -29.36}, {"episode": 5548, "value": -27.87}, {"episode": 5566, "value": -27.12}, {"episode": 5583, "value": -27.54},
      {"episode": 5601, "value": -29.47}, {"episode": 5618, "value": -28.29}, {"episode": 5636, "value": -28.93}, {"episode": 5654, "value": -28.72},
      {"episode": 5671, "value": -30.00}, {"episode": 5689, "value": -28.72}, {"episode": 5706, "value": -29.68}, {"episode": 5724, "value": -28.72},
      {"episode": 5741, "value": -29.79}, {"episode": 5759, "value": -27.97}, {"episode": 5776, "value": -28.40}, {"episode": 5794, "value": -27.12},
      {"episode": 5812, "value": -28.51}, {"episode": 5829, "value": -28.83}, {"episode": 5847, "value": -27.97}, {"episode": 5864, "value": -28.83},
      {"episode": 5882, "value": -27.97}, {"episode": 5899, "value": -29.15}, {"episode": 5917, "value": -28.51}, {"episode": 5934, "value": -29.26},
      {"episode": 5952, "value": -28.40}, {"episode": 5970, "value": -27.87}, {"episode": 5987, "value": -29.04}, {"episode": 6005, "value": -29.36},
      {"episode": 6022, "value": -27.76}, {"episode": 6040, "value": -27.97}, {"episode": 6057, "value": -29.47}, {"episode": 6075, "value": -31.07},
      {"episode": 6092, "value": -30.75}, {"episode": 6110, "value": -29.68}, {"episode": 6128, "value": -27.33}, {"episode": 6145, "value": -28.29},
      {"episode": 6163, "value": -26.48}, {"episode": 6180, "value": -27.33}, {"episode": 6198, "value": -27.54}, {"episode": 6215, "value": -28.83},
      {"episode": 6233, "value": -29.47}, {"episode": 6250, "value": -30.00}, {"episode": 6268, "value": -29.04}, {"episode": 6286, "value": -28.08},
      {"episode": 6303, "value": -30.54}, {"episode": 6321, "value": -30.91}, {"episode": 6338, "value": -29.68}, {"episode": 6356, "value": -28.61},
      {"episode": 6373, "value": -27.87}, {"episode": 6391, "value": -29.68}, {"episode": 6408, "value": -29.15}, {"episode": 6426, "value": -28.61},
      {"episode": 6443, "value": -27.12}, {"episode": 6461, "value": -27.01}, {"episode": 6478, "value": -27.87}, {"episode": 6496, "value": -27.22},
      {"episode": 6514, "value": -27.87}, {"episode": 6531, "value": -28.29}, {"episode": 6549, "value": -29.47}, {"episode": 6566, "value": -30.11},
      {"episode": 6584, "value": -31.18}, {"episode": 6601, "value": -30.00}, {"episode": 6619, "value": -28.40}, {"episode": 6636, "value": -28.08},
      {"episode": 6654, "value": -29.90}, {"episode": 6672, "value": -30.00}, {"episode": 6689, "value": -28.93}, {"episode": 6707, "value": -28.19},
      {"episode": 6724, "value": -27.12}, {"episode": 6742, "value": -27.33}, {"episode": 6759, "value": -27.87}, {"episode": 6777, "value": -28.93},
      {"episode": 6794, "value": -30.22}, {"episode": 6812, "value": -30.32}, {"episode": 6830, "value": -28.93}, {"episode": 6847, "value": -28.83},
      {"episode": 6865, "value": -29.68}, {"episode": 6882, "value": -30.32}, {"episode": 6900, "value": -28.83}, {"episode": 6917, "value": -29.58},
      {"episode": 6935, "value": -28.93}, {"episode": 6952, "value": -30.32}, {"episode": 6970, "value": -30.97}, {"episode": 6987, "value": -29.79},
      {"episode": 7005, "value": -30.00}, {"episode": 7022, "value": -29.36}, {"episode": 7040, "value": -30.43}, {"episode": 7058, "value": -29.36},
      {"episode": 7075, "value": -28.40}, {"episode": 7093, "value": -27.65}, {"episode": 7110, "value": -28.19}, {"episode": 7128, "value": -28.83},
      {"episode": 7145, "value": -29.90}, {"episode": 7163, "value": -30.22}, {"episode": 7180, "value": -28.19}, {"episode": 7198, "value": -27.65},
      {"episode": 7216, "value": -29.47}, {"episode": 7233, "value": -30.00}, {"episode": 7251, "value": -28.93}, {"episode": 7268, "value": -29.68},
      {"episode": 7286, "value": -28.72}, {"episode": 7303, "value": -29.58}, {"episode": 7321, "value": -28.40}, {"episode": 7339, "value": -29.15},
      {"episode": 7356, "value": -30.54}, {"episode": 7374, "value": -31.61}, {"episode": 7391, "value": -30.97}, {"episode": 7409, "value": -30.11},
      {"episode": 7426, "value": -28.93}, {"episode": 7444, "value": -29.79}, {"episode": 7461, "value": -29.47}, {"episode": 7479, "value": -30.65},
      {"episode": 7497, "value": -31.18}, {"episode": 7514, "value": -31.29}, {"episode": 7532, "value": -30.54}, {"episode": 7549, "value": -29.90},
      {"episode": 7567, "value": -30.00}, {"episode": 7584, "value": -29.15}, {"episode": 7602, "value": -29.47}, {"episode": 7619, "value": -29.26},
      {"episode": 7637, "value": -29.15}, {"episode": 7655, "value": -29.68}, {"episode": 7672, "value": -30.32}, {"episode": 7690, "value": -29.47},
      {"episode": 7707, "value": -30.43}, {"episode": 7725, "value": -30.43}, {"episode": 7742, "value": -29.47}, {"episode": 7760, "value": -28.72},
      {"episode": 7777, "value": -28.29}, {"episode": 7795, "value": -29.36}, {"episode": 7813, "value": -27.97}, {"episode": 7830, "value": -27.87},
      {"episode": 7848, "value": -29.26}, {"episode": 7865, "value": -28.51}, {"episode": 7883, "value": -29.90}, {"episode": 7901, "value": -28.72},
      {"episode": 7918, "value": -29.68}, {"episode": 7936, "value": -28.51}, {"episode": 7953, "value": -28.61}, {"episode": 7971, "value": -29.26},
      {"episode": 7988, "value": -31.07}, {"episode": 8006, "value": -31.50}, {"episode": 8023, "value": -31.71}, {"episode": 8041, "value": -31.07},
      {"episode": 8059, "value": -31.71}, {"episode": 8076, "value": -30.32}, {"episode": 8094, "value": -28.93}, {"episode": 8111, "value": -31.07},
      {"episode": 8129, "value": -32.14}, {"episode": 8146, "value": -30.54}, {"episode": 8164, "value": -29.47}, {"episode": 8181, "value": -28.72},
      {"episode": 8199, "value": -29.47}, {"episode": 8216, "value": -28.83}, {"episode": 8234, "value": -30.00}, {"episode": 8252, "value": -30.86},
      {"episode": 8269, "value": -31.39}, {"episode": 8287, "value": -30.54}, {"episode": 8304, "value": -28.93}, {"episode": 8322, "value": -29.90},
      {"episode": 8339, "value": -30.32}, {"episode": 8357, "value": -30.00}, {"episode": 8374, "value": -31.29}, {"episode": 8392, "value": -30.54},
      {"episode": 8409, "value": -29.90}, {"episode": 8427, "value": -29.04}, {"episode": 8445, "value": -30.54}, {"episode": 8462, "value": -30.75},
      {"episode": 8480, "value": -31.07}, {"episode": 8497, "value": -29.04}, {"episode": 8515, "value": -29.47}, {"episode": 8532, "value": -30.54},
      {"episode": 8550, "value": -29.79}, {"episode": 8567, "value": -28.93}, {"episode": 8585, "value": -29.68}, {"episode": 8603, "value": -28.29},
      {"episode": 8620, "value": -29.47}, {"episode": 8638, "value": -29.68}, {"episode": 8655, "value": -29.04}, {"episode": 8673, "value": -29.90},
      {"episode": 8690, "value": -28.93}, {"episode": 8708, "value": -29.47}, {"episode": 8725, "value": -30.65}, {"episode": 8743, "value": -30.97},
      {"episode": 8760, "value": -31.50}, {"episode": 8778, "value": -30.54}, {"episode": 8796, "value": -28.93}, {"episode": 8813, "value": -30.11},
      {"episode": 8831, "value": -28.93}, {"episode": 8848, "value": -30.75}, {"episode": 8866, "value": -29.58}, {"episode": 8883, "value": -30.54},
      {"episode": 8901, "value": -29.79}, {"episode": 8919, "value": -29.04}, {"episode": 8936, "value": -30.00}, {"episode": 8954, "value": -30.54},
      {"episode": 8971, "value": -30.11}, {"episode": 8989, "value": -28.40}, {"episode": 9006, "value": -27.44}, {"episode": 9023, "value": -27.54},
      {"episode": 9041, "value": -29.47}, {"episode": 9059, "value": -30.97}, {"episode": 9076, "value": -31.93}, {"episode": 9094, "value": -32.62},
      {"episode": 9111, "value": -31.82}, {"episode": 9129, "value": -30.75}, {"episode": 9147, "value": -29.26}, {"episode": 9164, "value": -29.47},
      {"episode": 9182, "value": -30.97}, {"episode": 9199, "value": -31.61}, {"episode": 9217, "value": -30.00}, {"episode": 9234, "value": -29.47},
      {"episode": 9252, "value": -29.26}, {"episode": 9269, "value": -30.32}, {"episode": 9287, "value": -29.36}, {"episode": 9304, "value": -30.32},
      {"episode": 9322, "value": -29.58}, {"episode": 9340, "value": -30.00}, {"episode": 9357, "value": -29.04}, {"episode": 9375, "value": -29.68},
      {"episode": 9393, "value": -28.93}, {"episode": 9410, "value": -29.36}, {"episode": 9427, "value": -30.00}, {"episode": 9445, "value": -29.47},
      {"episode": 9463, "value": -30.11}, {"episode": 9480, "value": -28.93}, {"episode": 9498, "value": -27.97}, {"episode": 9515, "value": -28.61},
      {"episode": 9533, "value": -27.54}, {"episode": 9550, "value": -28.93}, {"episode": 9568, "value": -29.47}, {"episode": 9586, "value": -28.40},
      {"episode": 9603, "value": -28.93}, {"episode": 9621, "value": -28.19}, {"episode": 9638, "value": -29.04}, {"episode": 9656, "value": -30.00},
      {"episode": 9673, "value": -29.26}, {"episode": 9691, "value": -28.40}, {"episode": 9709, "value": -27.54}, {"episode": 9726, "value": -27.22},
      {"episode": 9744, "value": -28.40}, {"episode": 9761, "value": -27.97}, {"episode": 9779, "value": -28.83}, {"episode": 9796, "value": -27.65},
      {"episode": 9814, "value": -28.29}, {"episode": 9831, "value": -28.93}, {"episode": 9849, "value": -29.58}, {"episode": 9866, "value": -27.97},
      {"episode": 9884, "value": -27.33}, {"episode": 9901, "value": -27.87}, {"episode": 9919, "value": -30.00}, {"episode": 9936, "value": -30.22},
      {"episode": 9954, "value": -28.40}, {"episode": 9971, "value": -28.29}, {"episode": 9989, "value": -29.04}, {"episode": 10000, "value": -28.83}
    ]
  },
  "hconcat": [
    {
      "width": 1322,
      "height": 1047,
      "layer": [
        {
          "data": {"name": "waiting"},
          "mark": {"type": "line", "strokeWidth": 3.5},
          "encoding": {
            "x": {
              "field": "episode", "type": "quantitative", "title": "Episode",
              "scale": {"domain": [-500, 10500], "nice": false, "zero": false},
              "axis": {"values": [0, 2000, 4000, 6000, 8000, 10000], "format": ",d", "labelFlush": false, "labelPadding": 9, "titlePadding": 4, "titleFontSize": 56}
            },
            "y": {
              "field": "value", "type": "quantitative", "title": "Average waiting time (s) per episode",
              "scale": {"domain": [0.6569, 0.8476], "nice": false, "zero": false},
              "axis": {"values": [0.675, 0.7, 0.725, 0.75, 0.775, 0.8, 0.825], "format": ".3f", "labelPadding": 15, "titlePadding": 12, "titleColor": "#2ca02c"}
            },
            "color": {
              "datum": "Average waiting time", "type": "nominal",
              "scale": {"domain": ["Average waiting time", "Average vehicle speed"], "range": ["#2ca02c", "#ff7f0e"]},
              "legend": {
                "orient": "none", "legendX": 520, "legendY": 409, "title": null,
                "symbolType": "stroke", "symbolSize": 11664, "symbolStrokeWidth": 4,
                "labelFontSize": 52, "labelOffset": 36, "labelLimit": 2000, "rowPadding": -11, "padding": 20,
                "strokeColor": "#d6d6d6", "cornerRadius": 10, "fillColor": "white"
              }
            }
          }
        },
        {
          "data": {"name": "speed"},
          "mark": {"type": "line", "strokeWidth": 3.5},
          "encoding": {
            "x": {"field": "episode", "type": "quantitative"},
            "y": {
              "field": "value", "type": "quantitative", "title": "Average speed (m/s) per episode",
              "scale": {"domain": [0.5936, 1.3369], "nice": false, "zero": false},
              "axis": {"orient": "right", "values": [0.6, 0.7, 0.8, 0.9, 1.0, 1.1, 1.2, 1.3], "format": ".1f", "labelFontSize": 28, "labelPadding": 12, "titlePadding": 8, "titleAngle": 270, "titleBaseline": "top", "titleColor": "#ff7f0e"}
            },
            "color": {"datum": "Average vehicle speed", "type": "nominal"}
          }
        }
      ],
      "resolve": {"scale": {"y": "independent"}}
    },
    {
      "width": 1320,
      "height": 1047,
      "data": {"name": "reward"},
      "mark": {"type": "line", "strokeWidth": 3.5, "color": "#1f77b4"},
      "encoding": {
        "x": {
          "field": "episode", "type": "quantitative", "title": "Episode",
          "scale": {"domain": [-500, 10500], "nice": false, "zero": false},
          "axis": {"values": [0, 2000, 4000, 6000, 8000, 10000], "format": ",d", "labelFlush": false, "labelPadding": 9, "titlePadding": 4, "titleFontSize": 56}
        },
        "y": {
          "field": "value", "type": "quantitative", "title": "Cumulative reward per episode",
          "scale": {"domain": [-34.466, -17.647], "nice": false, "zero": false},
          "axis": {"values": [-34, -32, -30, -28, -26, -24, -22, -20, -18], "format": "d", "labelPadding": 12, "titlePadding": 12}
        }
      }
    }
  ],
  "config": {
    "font": "DejaVu Sans",
    "view": {"stroke": "black", "strokeWidth": 3},
    "axis": {
      "grid": false, "domain": false,
      "tickColor": "black", "tickWidth": 2.5, "tickSize": 10,
      "labelColor": "black", "labelFontSize": 44, "labelFont": "DejaVu Sans",
      "titleColor": "black", "titleFontSize": 58, "titleFontWeight": "normal", "titleFont": "DejaVu Sans"
    },
    "legend": {"labelFont": "DejaVu Sans", "labelColor": "black", "strokeWidth": 2.5}
  }
}
